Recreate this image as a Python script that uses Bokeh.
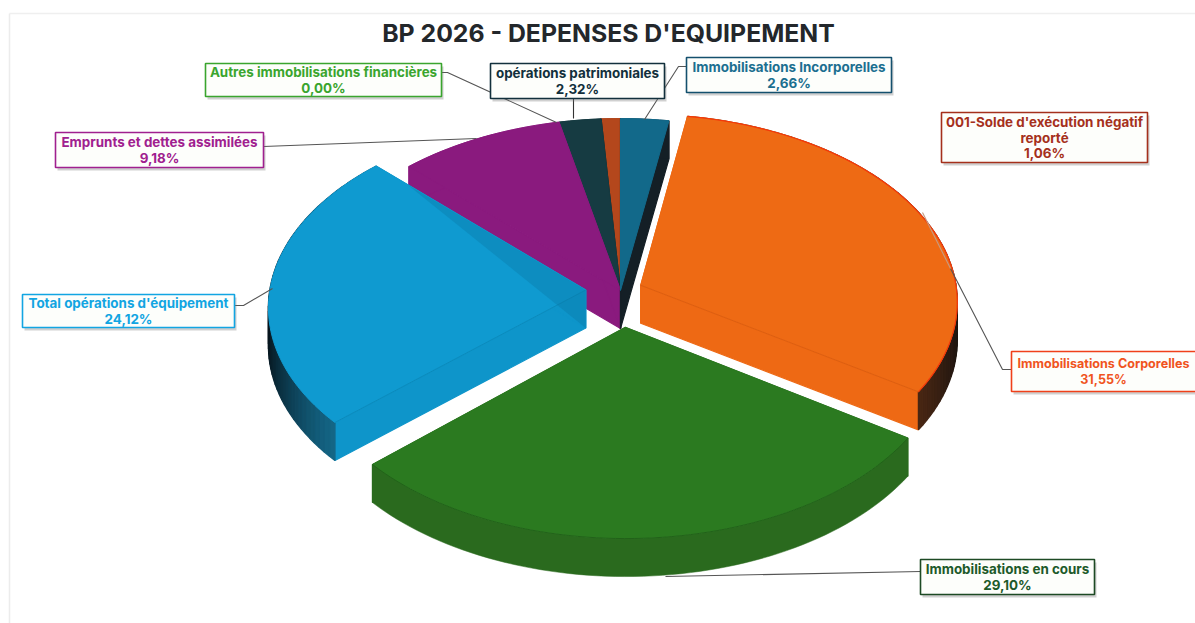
import numpy as np
from bokeh.plotting import figure
from bokeh.models import Range1d
from bokeh.core.properties import value
from bokeh.embed import file_html
from bokeh.resources import INLINE

TITLE = "BP 2026 - DEPENSES D'EQUIPEMENT"
categories = ["Immobilisations Incorporelles", "Immobilisations Corporelles", "Immobilisations en cours",
              "Total opérations d'équipement", "Emprunts et dettes assimilées", "opérations patrimoniales",
              "Autres immobilisations financières", "001-Solde d'exécution négatif reporté"]
shares = [2.66, 31.55, 29.10, 24.12, 9.18, 2.32, 0.00, 1.06]

top_colors = ["#12698a", "#ee6a14", "#2b7a20", "#0f9ad0", "#8a1a7e", "#163b42", "#3aa52e", "#b4471c"]
cut_colors = ["#141f26", "#ee6914", "#2a6f1e", "#0e95ca", "#8a1a7e", "#0f2a30", "#3aa52e", "#8a3514"]
rim_near = ["#141f26", "#7a3a18", "#2a6a1e", "#1a8ab5", "#8a1a7e", "#102a30", "#3aa52e", "#8a3514"]
rim_far = ["#141f26", "#1a1410", "#2a6a1e", "#07141c", "#8a1a7e", "#102a30", "#3aa52e", "#8a3514"]
explode = [0, 0.07, 0.195, 0.11, 0, 0, 0, 0]
draw_order = [7, 5, 4, 0, 1, 3, 2]

# projection of the disc (pixel space of the reference)
CX, CY, RX, RY, PERSP, DEPTH = 620, 290, 316, 186.6, 0.085, 38


def project(u, v, lift=0.0):
    s = 1 - PERSP * np.asarray(v)
    return CX + RX * np.asarray(u) / s, CY + RY * np.asarray(v) / s + lift


W, H = 1195, 623
p = figure(width=W, height=H, x_range=Range1d(0, W), y_range=Range1d(H, 0),
           output_backend="svg", toolbar_location=None, min_border=0, outline_line_color=None)
p.axis.visible = False
p.grid.visible = False

# faint scan edges
p.line([9, 9], [13, 623], line_color="#ececec", line_width=1.5)
p.line([9, 1195], [13, 13], line_color="#efefef", line_width=1.5)

edges = np.concatenate([[0], np.cumsum(shares)]) / sum(shares) * 2 * np.pi
for i in draw_order:
    a0, a1 = edges[i], edges[i + 1]
    mid = (a0 + a1) / 2
    ou, ov = explode[i] * np.sin(mid), -explode[i] * np.cos(mid)
    t = np.linspace(a0, a1, max(int((a1 - a0) / np.radians(1.5)), 3))
    us, vs = ou + np.sin(t), ov - np.cos(t)
    # cut walls
    for a in (t[0], t[-1]):
        x0, y0 = project([ou, ou + np.sin(a)], [ov, ov - np.cos(a)])
        x1, y1 = project([ou, ou + np.sin(a)], [ov, ov - np.cos(a)], DEPTH)
        p.patch([x0[0], x0[1], x1[1], x1[0]], [y0[0], y0[1], y1[1], y1[0]],
                fill_color=cut_colors[i], line_color=cut_colors[i], line_width=1.2)
    # outer wall, shaded by how far it faces the viewer
    xt, yt = project(us, vs)
    xb, yb = project(us, vs, DEPTH)
    if rim_near[i] == rim_far[i]:
        p.patch(np.r_[xt, xb[::-1]], np.r_[yt, yb[::-1]], fill_color=rim_near[i], line_color=rim_near[i], line_width=0.5)
    else:
        near = np.array([int(rim_near[i][k:k + 2], 16) for k in (1, 3, 5)], float)
        far = np.array([int(rim_far[i][k:k + 2], 16) for k in (1, 3, 5)], float)
        for k in range(len(t) - 1):
            w = np.clip(np.sin(t[k]) ** 2, 0, 1) ** 2
            c = near * (1 - w) + far * w
            col = "#%02x%02x%02x" % tuple(int(q) for q in c)
            p.patch([xt[k], xt[k + 1], xb[k + 1], xb[k]], [yt[k], yt[k + 1], yb[k + 1], yb[k]],
                    fill_color=col, line_color=col, line_width=1.3)
    # top face
    ax, ay = project(ou, ov)
    p.patch(np.r_[ax, xt], np.r_[ay, yt], fill_color=top_colors[i], line_color=top_colors[i], line_width=1)
    if i == 1:
        p.line(xt, yt, line_color="#f4380a", line_width=1.2)
        bx, by = project(ou + np.sin(t[-1]), ov - np.cos(t[-1]))
        p.line([ax, bx], [ay, by], line_color="#d85c10", line_width=0.8)
    if i == 3:
        ex, ey = project(ou + np.sin(t[0]), ov - np.cos(t[0]))
        p.line([ax, ex], [ay, ey], line_color="#0b86b6", line_width=0.8)
        fx, fy = project(ou + np.sin(t[-1]), ov - np.cos(t[-1]))
        sx, sy = ax + (fx - ax) * 0.85, ay + (fy - ay) * 0.85
        bx, by = project(ou, ov, DEPTH)
        p.patch([sx, ax, bx], [sy, ay, by], fill_color="#0a6f9a", fill_alpha=0.3, line_color=None)
    if i == 2:
        p.line(xt, yt, line_color="#1f5c18", line_width=0.8)

# leader lines
leaders = [
    ([441, 447, 556], [72, 72, 122], "#555555"),
    ([573, 573], [98, 118], "#333333"),
    ([263, 476], [146, 138], "#555555"),
    ([234, 243, 272], [305, 305, 288], "#555555"),
    ([686, 678, 644], [66, 66, 119], "#555555"),
    ([1011, 1002, 950], [369, 369, 268], "#555555"),
    ([950, 922], [268, 212], "#c89a80"),
    ([920, 665], [571, 576], "#555555"),
]
for lx, ly, lc in leaders:
    p.line(lx, ly, line_color=lc, line_width=1.1)

# label boxes: left, right, top, bottom, text-colour, border-colour, index and lines
boxes = [
    (205, 441, 63, 96, "#3aa52e", "#3aa52e", 6, None),
    (490, 664, 63, 98, "#12303c", "#12303c", 5, None),
    (686, 891, 57, 92, "#1b6f90", "#14506e", 0, None),
    (941, 1147, 112, 162, "#a5301c", "#a5301c", 7, ["001-Solde d'exécution négatif", "reporté"]),
    (1011, 1230, 351, 391, "#f0541e", "#f0401a", 1, None),
    (920, 1094, 559, 594, "#1d5a2a", "#1d4a24", 2, None),
    (22, 234, 294, 327, "#12a5e2", "#12a5e2", 3, None),
    (55, 263, 132, 167, "#a0208f", "#a0208f", 4, None),
]
for l, r, t_, b, tc, bc, idx, lines in boxes:
    p.quad(left=l + 2, right=r + 2, top=t_ + 3, bottom=b + 3, fill_color="#777777", fill_alpha=0.35, line_color=None)
    p.quad(left=l, right=r, top=t_, bottom=b, fill_color="#fdfefb", line_color=bc, line_width=1.6)
    rows = (lines or [categories[idx]]) + [("%.2f%%" % shares[idx]).replace(".", ",")]
    step = 15.5
    y0 = (t_ + b) / 2 - step * (len(rows) - 1) / 2
    clipped = r >= W
    cx = 1103 if clipped else (l + r) / 2
    p.text(x=[cx] * len(rows), y=[y0 + k * step for k in range(len(rows))], text=rows,
           text_font=value("Inter"), text_font_style="bold", text_font_size="12.6px" if clipped else "13.4px",
           text_color=tc, text_align="center", text_baseline="middle")

p.text(x=[608], y=[32], text=[TITLE], text_font=value("Inter"), text_font_style="bold",
       text_font_size="24.8px", text_color="#23272b", text_align="center", text_baseline="middle")

open("out.html", "w").write(file_html(p, INLINE))
